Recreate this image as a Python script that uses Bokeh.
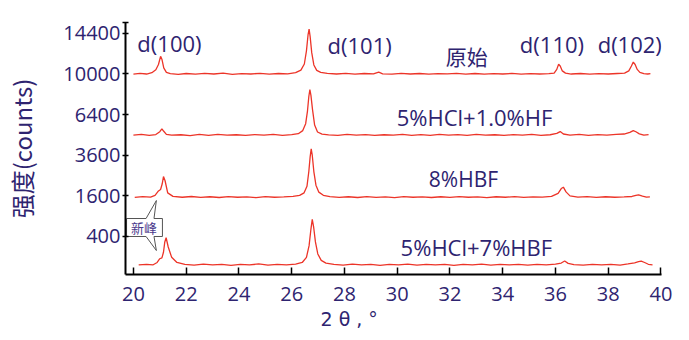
import numpy as np
from bokeh.plotting import figure
from bokeh.models import Range1d, FixedTicker, Label, Title
from bokeh.embed import file_html
from bokeh.resources import INLINE

# ---------------- data ----------------
x_ticks = [20, 22, 24, 26, 28, 30, 32, 34, 36, 38, 40]
y_tick_labels = ["400", "1600", "3600", "6400", "10000", "14400"]

# 原始
x_orig = [20.00, 20.25, 20.50, 20.70, 20.85, 20.95, 21.03, 21.08, 21.15, 21.25, 21.40, 21.70,
          22.00, 22.35, 22.70, 23.05, 23.40, 23.75, 24.10, 24.45, 24.80, 25.15, 25.50, 25.85,
          26.15, 26.35, 26.48, 26.56, 26.62, 26.66, 26.70, 26.76, 26.84, 26.95, 27.10, 27.35,
          27.70, 28.05, 28.40, 28.75, 29.10, 29.30, 29.45, 29.80, 30.15, 30.50, 30.85, 31.20,
          31.55, 31.90, 32.25, 32.60, 32.95, 33.30, 33.65, 34.00, 34.35, 34.70, 35.05, 35.40,
          35.75, 35.95, 36.05, 36.12, 36.18, 36.26, 36.38, 36.60, 36.95, 37.30, 37.65, 38.00,
          38.35, 38.62, 38.78, 38.88, 38.95, 39.02, 39.10, 39.20, 39.35, 39.50, 39.60]
y_orig = [9980, 10060, 9990, 10120, 10420, 10950, 11800, 11500, 10600, 10150, 10030, 9960,
          10040, 9970, 10050, 9990, 10070, 9960, 10030, 9990, 10060, 9980, 10040, 10010,
          10120, 10380, 11000, 12400, 14200, 14900, 14000, 12200, 10900, 10350, 10150, 10050,
          9990, 10050, 9980, 10040, 10000, 10180, 10010, 9970, 10050, 9990, 10040, 9970,
          10030, 10000, 10060, 9980, 10040, 9970, 10030, 9990, 10050, 9980, 10030, 9990,
          10020, 10080, 10450, 10980, 10800, 10300, 10080, 9990, 10040, 9970, 10030, 9990,
          10040, 10080, 10300, 10800, 11200, 10950, 10450, 10150, 10020, 9990, 10020]

# 5%HCl+1.0%HF
x_hf = [20.00, 20.30, 20.60, 20.85, 21.00, 21.08, 21.15, 21.25, 21.45, 21.80, 22.15, 22.50,
        22.85, 23.20, 23.55, 23.90, 24.25, 24.60, 24.95, 25.30, 25.65, 26.00, 26.25, 26.42,
        26.53, 26.60, 26.65, 26.69, 26.73, 26.79, 26.87, 26.98, 27.15, 27.40, 27.75, 28.10,
        28.45, 28.80, 29.15, 29.50, 29.85, 30.20, 30.55, 30.90, 31.25, 31.60, 31.95, 32.30,
        32.65, 33.00, 33.35, 33.70, 34.05, 34.40, 34.75, 35.10, 35.45, 35.80, 36.05, 36.18,
        36.30, 36.55, 36.90, 37.25, 37.60, 37.95, 38.30, 38.60, 38.82, 38.95, 39.05, 39.18,
        39.35, 39.53]
y_hf = [4880, 4930, 4860, 4920, 5120, 5330, 5150, 4940, 4880, 4910, 4850, 4930,
        4870, 4940, 4880, 4910, 4860, 4920, 4880, 4930, 4870, 4920, 4980, 5200,
        5700, 6700, 7900, 8520, 8000, 6800, 5600, 5100, 4950, 4900, 4870, 4930,
        4880, 4920, 4860, 4910, 4880, 4940, 4870, 4920, 4860, 4930, 4890, 4920,
        4870, 4930, 4880, 4910, 4860, 4920, 4890, 4930, 4870, 4910, 5000, 5130,
        4960, 4890, 4930, 4870, 4920, 4880, 4930, 4960, 5080, 5200, 5120, 4970,
        4880, 4920]

# 8%HBF
x_hbf = [20.05, 20.35, 20.65, 20.82, 20.95, 21.03, 21.09, 21.14, 21.20, 21.30, 21.50, 21.85,
         22.20, 22.55, 22.90, 23.25, 23.60, 23.95, 24.30, 24.65, 25.00, 25.35, 25.70, 26.05,
         26.30, 26.47, 26.58, 26.65, 26.70, 26.74, 26.78, 26.84, 26.92, 27.03, 27.20, 27.45,
         27.80, 28.15, 28.50, 28.85, 29.20, 29.55, 29.90, 30.25, 30.60, 30.95, 31.30, 31.65,
         32.00, 32.35, 32.70, 33.05, 33.40, 33.75, 34.10, 34.45, 34.80, 35.15, 35.50, 35.85,
         36.10, 36.22, 36.30, 36.40, 36.55, 36.85, 37.20, 37.55, 37.90, 38.25, 38.60, 38.90,
         39.05, 39.15, 39.30, 39.45, 39.58]
y_hbf = [1540, 1570, 1550, 1620, 1800, 1860, 2100, 2450, 2250, 1720, 1580, 1545,
         1575, 1540, 1565, 1535, 1570, 1545, 1560, 1530, 1570, 1545, 1560, 1580,
         1620, 1720, 2000, 2700, 3500, 3980, 3600, 2700, 2050, 1750, 1620, 1570,
         1540, 1565, 1535, 1570, 1540, 1560, 1530, 1570, 1545, 1560, 1535, 1565,
         1540, 1570, 1545, 1560, 1530, 1565, 1545, 1570, 1540, 1560, 1550, 1580,
         1700, 1900, 1960, 1760, 1600, 1550, 1570, 1540, 1565, 1545, 1560, 1575,
         1620, 1640, 1590, 1550, 1560]

# 5%HCl+7%HBF
x_mix = [20.20, 20.50, 20.75, 20.90, 21.00, 21.08, 21.14, 21.19, 21.24, 21.32, 21.45, 21.65,
         21.95, 22.30, 22.65, 23.00, 23.35, 23.70, 24.05, 24.40, 24.75, 25.10, 25.45, 25.80,
         26.15, 26.40, 26.56, 26.66, 26.73, 26.78, 26.83, 26.90, 26.99, 27.12, 27.30, 27.60,
         27.95, 28.30, 28.65, 29.00, 29.35, 29.70, 30.05, 30.40, 30.75, 31.10, 31.45, 31.80,
         32.15, 32.50, 32.85, 33.20, 33.55, 33.90, 34.25, 34.60, 34.95, 35.30, 35.65, 36.00,
         36.22, 36.35, 36.48, 36.70, 37.05, 37.40, 37.75, 38.10, 38.45, 38.75, 39.00, 39.15,
         39.25, 39.38, 39.52, 39.68]
y_mix = [36, 40, 37, 52, 82, 90, 150, 300, 376, 220, 95, 52,
         40, 35, 41, 36, 40, 34, 39, 36, 42, 35, 39, 37,
         41, 52, 95, 240, 560, 806, 620, 300, 130, 68, 48, 39,
         35, 41, 36, 40, 34, 39, 37, 41, 35, 40, 36, 39,
         34, 40, 37, 41, 35, 39, 36, 40, 35, 39, 37, 41,
         48, 63, 46, 38, 35, 40, 36, 39, 35, 42, 50, 58,
         62, 52, 40, 37]

# ---------------- figure ----------------
TXT = "#2e2470"
RED = "#ec3428"

p = figure(width=681, height=338, output_backend="svg", toolbar_location=None,
           x_range=Range1d(19.70, 40.02), y_range=Range1d(1.3, 125.3),
           min_border_left=125, min_border_right=20, min_border_top=22, min_border_bottom=64)
p.outline_line_color = None
p.xgrid.visible = False
p.ygrid.visible = False
p.background_fill_color = "white"

for xs, ys in [(x_orig, y_orig), (x_hf, y_hf), (x_hbf, y_hbf), (x_mix, y_mix)]:
    p.line(xs, np.sqrt(np.array(ys, dtype=float)), line_color=RED, line_width=1.3)

# axes
p.xaxis.ticker = FixedTicker(ticks=x_ticks)
y_tick_pos = [float(np.sqrt(int(s))) for s in y_tick_labels]
p.yaxis.ticker = FixedTicker(ticks=y_tick_pos + [125.3])
overrides = {t: s for t, s in zip(y_tick_pos, y_tick_labels)}
overrides[125.3] = ""
p.yaxis.major_label_overrides = overrides

for ax in (p.xaxis[0], p.yaxis[0]):
    ax.axis_line_color = "black"
    ax.axis_line_width = 2
    ax.major_tick_line_color = "black"
    ax.major_tick_line_width = 1.5
    ax.minor_tick_line_color = None
    ax.major_label_text_font = "Open Sans"
    ax.major_label_text_font_size = "20px"
    ax.major_label_text_color = TXT
    ax.axis_label_text_color = TXT
    ax.axis_label_text_font_style = "normal"

p.xaxis.major_tick_in = 7
p.xaxis.major_tick_out = 0
p.xaxis.major_label_standoff = 12

p.yaxis.major_tick_in = 3
p.yaxis.major_tick_out = 3
p.yaxis.major_label_standoff = 2
p.yaxis.axis_label = "强度(counts)"
p.yaxis.axis_label_text_font = "Noto Sans CJK SC"
p.yaxis.axis_label_text_font_size = "24px"
p.yaxis.axis_label_standoff = 21

# x-axis title (placed below, shifted left like the original)
p.add_layout(Title(text="2 θ , °", align="left", offset=195, standoff=4,
                   text_font="DejaVu Sans", text_font_size="19px",
                   text_font_style="normal", text_color=TXT), "below")

# peak / condition labels
labels = [
    ("d(100)", 20.15, 115.4, "Open Sans", "22px"),
    ("d(101)", 27.36, 114.4, "Open Sans", "22px"),
    ("原始", 31.84, 109.0, "Noto Sans CJK SC", "21px"),
    ("d(110)", 34.65, 114.9, "Open Sans", "22px"),
    ("d(102)", 37.60, 114.9, "Open Sans", "22px"),
    ("5%HCl+1.0%HF", 29.98, 79.0, "Open Sans", "22px"),
    ("8%HBF", 31.20, 48.5, "Open Sans", "21px"),
    ("5%HCl+7%HBF", 30.13, 14.6, "Open Sans", "22px"),
]
for t, lx, ly, f, fs in labels:
    p.add_layout(Label(x=lx, y=ly, text=t, text_font=f, text_font_size=fs,
                       text_color=TXT, text_align="left", text_baseline="middle"))

# callout "新峰"
cx = [19.74, 20.48, 20.87, 20.78, 21.10, 21.10, 20.78, 20.87, 20.48, 19.74]
cy = [28.85, 28.85, 37.7, 28.85, 28.85, 20.0, 20.0, 13.1, 20.0, 20.0]
p.patch(cx, cy, fill_color="white", line_color="#555555", line_width=1)
p.add_layout(Label(x=20.40, y=24.4, text="新峰", text_font="Noto Sans CJK SC",
                   text_font_size="13px", text_color="#4a3a8c",
                   text_align="center", text_baseline="middle"))

open("out.html", "w").write(file_html(p, INLINE))
